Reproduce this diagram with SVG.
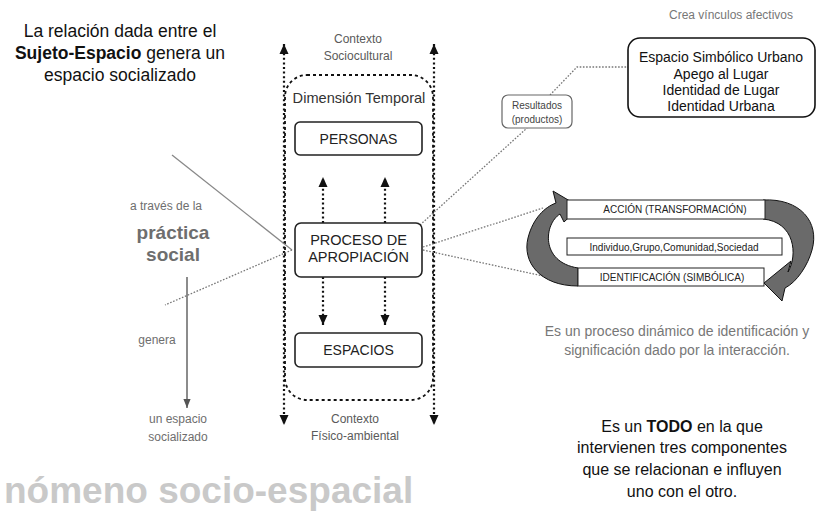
<svg xmlns="http://www.w3.org/2000/svg" width="833" height="512" viewBox="0 0 833 512">
<style>
text{font-family:"Liberation Sans",Arial,sans-serif}
.blk{fill:#111}
.gr{fill:#6e6e6e}
.ctx{fill:#5a5a5a;font-size:12px}
.box{fill:#fff;stroke:#222;stroke-width:1.6}
.vdot{stroke:#111;stroke-width:2.2;stroke-dasharray:2 2.6;fill:none}
.conn{stroke:#777;stroke-width:1.3;stroke-dasharray:1.6 1.6;fill:none}
.band{fill:#6a6a6a;stroke:#111;stroke-width:1}
.bar{fill:#fff;stroke:#222;stroke-width:1}
.sm{font-size:10px;fill:#222}
</style>
<defs>
<marker id="ah" viewBox="0 0 10 10" refX="10" refY="5" markerWidth="10" markerHeight="10" markerUnits="userSpaceOnUse" orient="auto-start-reverse">
<path d="M0,0.5 L10,5 L0,9.5 Z" fill="#111"/>
</marker>
<marker id="ahg" viewBox="0 0 10 10" refX="10" refY="5" markerWidth="9" markerHeight="9" markerUnits="userSpaceOnUse" orient="auto">
<path d="M0,1 L10,5 L0,9 Z" fill="#555"/>
</marker>
</defs>

<g id="title">
<text x="120" y="37" font-size="17.5" text-anchor="middle" class="blk">La relación dada entre el</text>
<text x="120" y="59" font-size="17.5" text-anchor="middle" class="blk"><tspan font-weight="bold">Sujeto-Espacio</tspan> genera un</text>
<text x="120" y="81" font-size="17.5" text-anchor="middle" class="blk">espacio socializado</text>
</g>

<g id="connectors">
<line class="vdot" x1="284" y1="44" x2="284" y2="425" marker-start="url(#ah)" marker-end="url(#ah)"/>
<line class="vdot" x1="434" y1="44" x2="434" y2="425" marker-start="url(#ah)" marker-end="url(#ah)"/>
<rect x="285" y="75" width="148" height="325" rx="22" fill="none" stroke="#111" stroke-width="1.8" stroke-dasharray="3 3"/>
<line class="vdot" x1="323" y1="223" x2="323" y2="177" marker-end="url(#ah)"/>
<line class="vdot" x1="385" y1="223" x2="385" y2="177" marker-end="url(#ah)"/>
<line class="vdot" x1="323" y1="277" x2="323" y2="325" marker-end="url(#ah)"/>
<line class="vdot" x1="385" y1="277" x2="385" y2="325" marker-end="url(#ah)"/>
<line x1="172" y1="155" x2="292" y2="250" stroke="#888" stroke-width="1.3"/>
<line class="conn" x1="292" y1="250" x2="165" y2="305"/>
<line x1="187" y1="277" x2="187" y2="408" stroke="#666" stroke-width="1.5" marker-end="url(#ahg)"/>
<polyline class="conn" points="420,225 527,128"/>
<polyline class="conn" points="550,95 577,67 628,67"/>
<line class="conn" x1="423" y1="247" x2="543" y2="208"/>
<line class="conn" x1="423" y1="250" x2="543" y2="276"/>
</g>

<g id="contexto-sociocultural">
<text x="358" y="43" text-anchor="middle" class="ctx">Contexto</text>
<text x="358" y="60" text-anchor="middle" class="ctx">Sociocultural</text>
</g>
<g id="dimension-temporal">
<text x="359" y="103" text-anchor="middle" font-size="14.6" fill="#333">Dimensión Temporal</text>
</g>
<g id="personas">
<rect class="box" x="295" y="122" width="127" height="33" rx="5"/>
<text x="358.5" y="144" text-anchor="middle" font-size="14" fill="#222">PERSONAS</text>
</g>
<g id="proceso">
<rect class="box" x="295" y="223" width="127" height="54" rx="6"/>
<text x="358.5" y="245" text-anchor="middle" font-size="14.5" fill="#222">PROCESO DE</text>
<text x="358.5" y="262" text-anchor="middle" font-size="14.5" fill="#222">APROPIACIÓN</text>
</g>
<g id="espacios">
<rect class="box" x="295" y="333" width="127" height="34" rx="5"/>
<text x="358.5" y="355" text-anchor="middle" font-size="14" fill="#222">ESPACIOS</text>
</g>
<g id="contexto-fisico">
<text x="355" y="423" text-anchor="middle" class="ctx">Contexto</text>
<text x="355" y="440" text-anchor="middle" class="ctx">Físico-ambiental</text>
</g>

<g id="practica-social">
<text x="166" y="210" text-anchor="middle" font-size="12" class="gr">a través de la</text>
<text x="173" y="239" text-anchor="middle" font-size="19" font-weight="bold" class="gr">práctica</text>
<text x="173" y="261" text-anchor="middle" font-size="19" font-weight="bold" class="gr">social</text>
<text x="157" y="344" text-anchor="middle" font-size="12" class="gr">genera</text>
<text x="178" y="423" text-anchor="middle" font-size="12" class="gr">un espacio</text>
<text x="178" y="441" text-anchor="middle" font-size="12" class="gr">socializado</text>
</g>

<g id="fenomeno">
<text x="4" y="503" font-size="37" font-weight="bold" fill="#c9c9c9">nómeno socio-espacial</text>
</g>

<g id="resultados">
<rect x="502" y="95" width="70" height="33" rx="6" fill="#fff" stroke="#666" stroke-width="1.2"/>
<text x="537" y="109" text-anchor="middle" font-size="10" fill="#444">Resultados</text>
<text x="537" y="123" text-anchor="middle" font-size="10" fill="#444">(productos)</text>
</g>

<g id="vinculos">
<text x="731" y="19" text-anchor="middle" font-size="12" fill="#777">Crea vínculos afectivos</text>
<rect x="628" y="38" width="187" height="79" rx="12" fill="#fff" stroke="#111" stroke-width="1.6"/>
<text x="721" y="62" text-anchor="middle" font-size="14" fill="#111">Espacio Simbólico Urbano</text>
<text x="721" y="79" text-anchor="middle" font-size="14" fill="#111">Apego al Lugar</text>
<text x="721" y="95" text-anchor="middle" font-size="14" fill="#111">Identidad de Lugar</text>
<text x="721" y="111" text-anchor="middle" font-size="14" fill="#111">Identidad Urbana</text>
</g>

<g id="ciclo">
<path class="band" d="M578,286 C540,286 522,262 528,238 C533,218 545,207 556,203 L553,191 L580,207 L564,222 L560,214 C544,224 540,262 578,268 Z"/>
<path class="band" d="M763,200 C800,198 820,222 812,250 C808,265 797,282 785,288 L782,301 L764,283 L791,261 L788,272 C798,255 795,222 763,219 Z"/>
<rect class="bar" x="567" y="200" width="198" height="19"/>
<text x="675" y="213" text-anchor="middle" class="sm">ACCIÓN (TRANSFORMACIÓN)</text>
<rect class="bar" x="567" y="238" width="215" height="17"/>
<text x="674" y="251" text-anchor="middle" class="sm">Individuo,Grupo,Comunidad,Sociedad</text>
<rect class="bar" x="578" y="268" width="186" height="18"/>
<text x="672" y="281" text-anchor="middle" class="sm">IDENTIFICACIÓN (SIMBÓLICA)</text>
</g>

<g id="proceso-dinamico">
<text x="677" y="336" text-anchor="middle" font-size="14" fill="#777">Es un proceso dinámico de identificación y</text>
<text x="677" y="355" text-anchor="middle" font-size="14" fill="#777">significación dado por la interacción.</text>
</g>

<g id="todo">
<text x="682" y="432" text-anchor="middle" font-size="16" fill="#111">Es un <tspan font-weight="bold">TODO</tspan> en la que</text>
<text x="682" y="453" text-anchor="middle" font-size="16" fill="#111">intervienen tres componentes</text>
<text x="682" y="475" text-anchor="middle" font-size="16" fill="#111">que se relacionan e influyen</text>
<text x="682" y="497" text-anchor="middle" font-size="16" fill="#111">uno con el otro.</text>
</g>
</svg>
